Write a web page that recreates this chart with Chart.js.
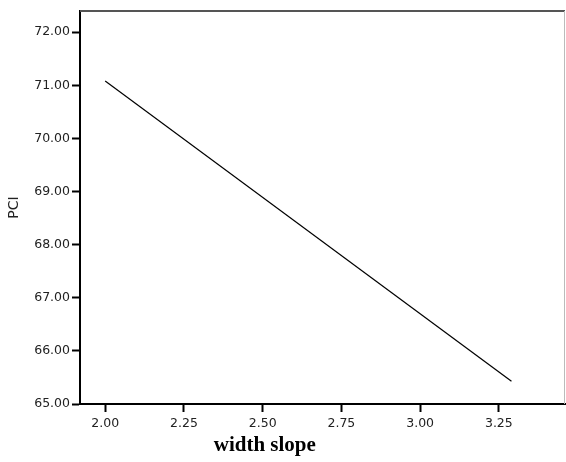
<!DOCTYPE html>
<html>
<head>
<meta charset="utf-8">
<script src="https://cdn.jsdelivr.net/npm/chart.js@4/dist/chart.umd.min.js"></script>
<style>
    html, body {margin: 0; padding: 0; background: #fff;}
    #wrap {width: 566px; height: 462px;}
</style>
</head>
<body>
<div id="wrap"><canvas id="pciChart"></canvas></div>
<script>
"use strict";

// fit line
const slopeX = [2.00, 3.29];
const pciY = [71.08, 65.43];

const xTicks = [2.00, 2.25, 2.50, 2.75, 3.00, 3.25];
const yTicks = [65, 66, 67, 68, 69, 70, 71, 72];

const xTitle = "width slope";
const yTitle = "PCI";

const tickFont = {family: "DejaVu Sans", size: 12.5};

// plot frame + the off-centre x title like the SPSS export
const framePlugin = {
    id: 'frame',
    afterDraw(chart) {
        const ctx = chart.ctx;
        const a = chart.chartArea;
        ctx.save();
        ctx.strokeStyle = '#555';
        ctx.lineWidth = 2;
        ctx.beginPath();
        ctx.moveTo(a.left, a.top);
        ctx.lineTo(a.right, a.top);
        ctx.stroke();
        ctx.strokeStyle = '#bbb';
        ctx.lineWidth = 1;
        ctx.beginPath();
        ctx.moveTo(a.right - 0.5, a.top);
        ctx.lineTo(a.right - 0.5, a.bottom);
        ctx.stroke();

        ctx.fillStyle = '#000';
        ctx.font = 'bold 21px "Liberation Serif"';
        ctx.textAlign = 'center';
        ctx.textBaseline = 'middle';
        ctx.fillText(xTitle, a.left + (a.right - a.left) * 0.381, 446);
        ctx.restore();
    }
};

const chart = new Chart(document.getElementById('pciChart'), {
    type: 'scatter',
    data: {
        datasets: [{
            data: slopeX.map((x, i) => ({x: x, y: pciY[i]})),
            showLine: true,
            borderColor: '#000',
            borderWidth: 1.2,
            pointRadius: 0,
            fill: false,
        }]
    },
    options: {
        responsive: true,
        maintainAspectRatio: false,
        animation: false,
        layout: {padding: {top: 11, right: 1, left: 0, bottom: 0}},
        plugins: {
            legend: {display: false},
            tooltip: {enabled: false},
        },
        scales: {
            x: {
                type: 'linear',
                min: 1.92,
                max: 3.46,
                afterBuildTicks: s => { s.ticks = xTicks.map(v => ({value: v})); },
                afterFit: s => { s.height = 58; },
                grid: {drawOnChartArea: false, color: '#000', tickLength: 8, tickWidth: 2},
                border: {color: '#000', width: 2},
                ticks: {
                    color: '#222',
                    font: tickFont,
                    padding: 4,
                    maxRotation: 0,
                    callback: v => Number(v).toFixed(2),
                },
            },
            y: {
                type: 'linear',
                min: 65,
                max: 72.4,
                afterBuildTicks: s => { s.ticks = yTicks.map(v => ({value: v})); },
                afterFit: s => { s.width = 80; },
                grid: {drawOnChartArea: false, color: '#000', tickLength: 8, tickWidth: 2},
                border: {color: '#000', width: 2},
                ticks: {
                    color: '#222',
                    font: tickFont,
                    padding: 2,
                    callback: v => Number(v).toFixed(2),
                },
                title: {
                    display: true,
                    text: yTitle,
                    color: '#222',
                    font: {family: "DejaVu Sans", size: 14},
                    padding: {top: 6, bottom: 0},
                },
            },
        },
    },
    plugins: [framePlugin],
});
</script>
</body>
</html>
